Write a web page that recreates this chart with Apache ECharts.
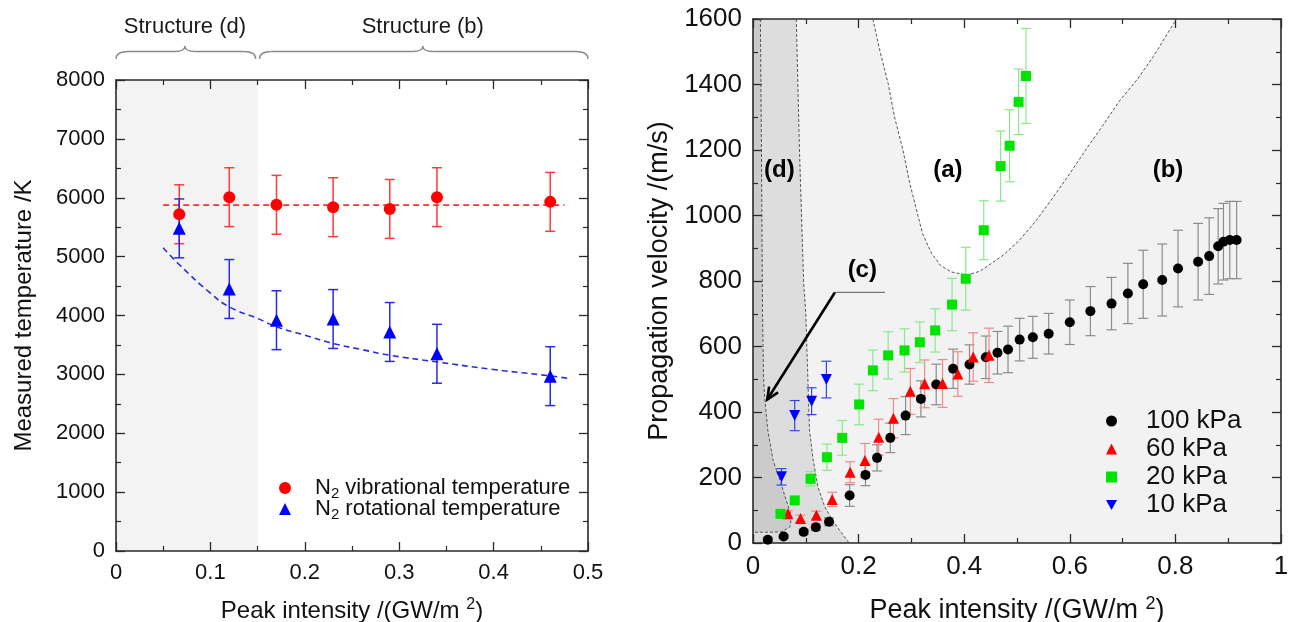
<!DOCTYPE html>
<html><head><meta charset="utf-8">
<script src="https://cdn.jsdelivr.net/npm/echarts@6/dist/echarts.min.js"></script>
<style>html,body{margin:0;padding:0;background:#fff}#c{width:1299px;height:622px}</style>
</head><body><div id="c"></div>
<script>
// ===== Left panel data =====
const leftXTicks = [0, 0.1, 0.2, 0.3, 0.4, 0.5];
const leftYTicks = [0, 1000, 2000, 3000, 4000, 5000, 6000, 7000, 8000];
const leftIntensity = [0.067, 0.12, 0.17, 0.23, 0.29, 0.34, 0.46];
const vibTemp = [5720, 6010, 5880, 5840, 5810, 6010, 5930];
const vibErr  = [500, 500, 500, 500, 500, 500, 500];
const rotTemp = [5480, 4450, 3920, 3940, 3720, 3350, 2970];
const rotErr  = [500, 500, 500, 500, 500, 500, 500];
const vibFitX = [0.05, 0.475];
const vibFitT = [5875, 5875];
const rotFitX = [0.05, 0.068, 0.1, 0.12, 0.15, 0.17, 0.2, 0.23, 0.26, 0.29, 0.34, 0.4, 0.46, 0.48];
const rotFitT = [5150, 4850, 4380, 4147, 3950, 3807, 3666, 3525, 3423, 3326, 3212, 3083, 2974, 2930];
const structShadeX = [0, 0.15];
const structNames = ['Structure (d)', 'Structure (b)'];
const braceStart = [0, 0.152];
const braceEnd   = [0.148, 0.5];
const bracePeak  = [0.073, 0.325];

// ===== Right panel data =====
const rightXTicks = [0, 0.2, 0.4, 0.6, 0.8, 1];
const rightYTicks = [0, 200, 400, 600, 800, 1000, 1200, 1400, 1600];
const p100X = [0.028, 0.058, 0.096, 0.119, 0.144, 0.183, 0.213, 0.235, 0.260, 0.289, 0.318, 0.347, 0.379, 0.410, 0.441, 0.463, 0.483, 0.505, 0.530, 0.560, 0.600, 0.639, 0.679, 0.710, 0.739, 0.775, 0.805, 0.843, 0.864, 0.881, 0.891, 0.903, 0.916];
const p100V = [10, 20, 34, 48, 65, 145, 208, 260, 321, 389, 440, 484, 532, 545, 567, 581, 591, 621, 628, 639, 674, 708, 731, 762, 790, 803, 838, 859, 876, 906, 920, 925, 925];
const p100E = [5, 5, 8, 10, 12, 33, 33, 40, 45, 58, 55, 62, 60, 60, 65, 65, 71, 65, 64, 62, 68, 75, 80, 92, 104, 110, 117, 117, 117, 115, 117, 118, 118];
const p60X = [0.066, 0.090, 0.120, 0.150, 0.184, 0.212, 0.238, 0.266, 0.298, 0.325, 0.359, 0.388, 0.417, 0.447];
const p60V = [89, 75, 85, 133, 216, 252, 323, 381, 463, 486, 487, 516, 568, 573];
const p60E = [10, 10, 12, 22, 32, 52, 55, 60, 70, 73, 73, 68, 74, 83];
const p20X = [0.052, 0.079, 0.109, 0.140, 0.169, 0.201, 0.227, 0.256, 0.287, 0.316, 0.345, 0.377, 0.403, 0.437, 0.469, 0.486, 0.503, 0.517];
const p20V = [89, 130, 196, 262, 321, 423, 527, 573, 588, 613, 649, 728, 807, 955, 1151, 1213, 1347, 1426];
const p20E = [8, 10, 22, 40, 53, 62, 62, 72, 66, 62, 66, 80, 96, 90, 107, 110, 100, 145];
const p10X = [0.054, 0.079, 0.111, 0.139];
const p10V = [202, 389, 433, 499];
const p10E = [25, 46, 41, 56];

// region boundaries
const regionAX = [0.227, 0.240, 0.256, 0.268, 0.284, 0.297, 0.313, 0.321, 0.338, 0.355, 0.375, 0.405, 0.430, 0.474, 0.505, 0.537, 0.569, 0.600, 0.632, 0.663, 0.695, 0.727, 0.758, 0.802];
const regionAV = [1600, 1505, 1403, 1301, 1200, 1098, 996, 945, 885, 848, 828, 818, 830, 879, 925, 986, 1057, 1128, 1205, 1276, 1352, 1414, 1485, 1600];
const regionDX = [0.082, 0.088, 0.096, 0.100, 0.104, 0.107, 0.114, 0.123, 0.136, 0.155, 0.182];
const regionDV = [1600, 1200, 792, 700, 497, 344, 253, 171, 110, 59, 0];
const regionCX = [0.014, 0.016, 0.018, 0.020, 0.022, 0.028, 0.038, 0.051, 0.063, 0.073, 0.070, 0.054, 0.035, 0];
const regionCV = [1600, 1200, 708, 504, 446, 344, 253, 192, 130, 80, 49, 34, 33, 33];
const regionNames = ['(a)', '(b)', '(c)', '(d)'];
const regionLabelX = [0.369, 0.786, 0.207, 0.050];
const regionLabelV = [1138, 1138, 833, 1138];
const leaderX = [0.155, 0.25];
const leaderV = [765, 765];
const arrowX = [0.155, 0.027];
const arrowV = [765, 438];

// ===== helpers =====
const FONT = "'Liberation Sans', Arial, Helvetica, sans-serif";
const AX = '#2a2a2a';
const zip = (xs, ys, es) => xs.map((x, i) => es ? [x, ys[i], es[i]] : [x, ys[i]]);
const step = t => +(t[1] - t[0]).toFixed(6);
const plain = v => String(+v.toFixed(6));

function axis(grid, pos, ticks, fs, showLabel, name, nameGap, nameStyle) {
  const a = {
    gridIndex: grid, type: 'value', position: pos,
    min: ticks[0], max: ticks[ticks.length - 1], interval: step(ticks),
    axisLine: { show: true, onZero: false, lineStyle: { color: AX, width: 1.6 } },
    axisTick: { show: true, inside: true, length: 9, lineStyle: { color: AX, width: 1.3 } },
    minorTick: { show: true, splitNumber: 2, length: 5, lineStyle: { color: AX, width: 1.2 } },
    splitLine: { show: false },
    axisLabel: { show: showLabel, fontSize: fs, color: '#111', fontFamily: FONT, margin: 11, formatter: plain }
  };
  if (name) {
    a.name = name; a.nameLocation = 'middle'; a.nameGap = nameGap;
    a.nameTextStyle = nameStyle;
  }
  return a;
}

function errSeries(xs, ys, es, color, capW, lw, xi, yi) {
  return {
    type: 'custom', xAxisIndex: xi, yAxisIndex: yi, data: zip(xs, ys, es), z: 3, silent: true,
    encode: { x: 0, y: 1 },
    renderItem(p, api) {
      const x = api.value(0), y = api.value(1), e = api.value(2);
      const t = api.coord([x, y + e]), b = api.coord([x, y - e]);
      const st = { stroke: color, lineWidth: lw, fill: null };
      return { type: 'group', children: [
        { type: 'line', shape: { x1: t[0], y1: t[1], x2: b[0], y2: b[1] }, style: st },
        { type: 'line', shape: { x1: t[0] - capW / 2, y1: t[1], x2: t[0] + capW / 2, y2: t[1] }, style: st },
        { type: 'line', shape: { x1: b[0] - capW / 2, y1: b[1], x2: b[0] + capW / 2, y2: b[1] }, style: st }
      ] };
    }
  };
}

function polySeries(getPts, fill, xi, yi, z) {
  return {
    type: 'custom', xAxisIndex: xi, yAxisIndex: yi, data: [[0, 0]], z: z, silent: true,
    renderItem(p, api) {
      return { type: 'polygon', shape: { points: getPts().map(q => api.coord(q)) }, style: { fill: fill, stroke: null } };
    }
  };
}

function dashLine(xs, ys, color, width, dash, xi, yi, smooth) {
  return {
    type: 'line', xAxisIndex: xi, yAxisIndex: yi, data: zip(xs, ys), showSymbol: false, symbol: 'none',
    smooth: smooth || false, silent: true, z: 2,
    lineStyle: { color: color, width: width, type: dash }
  };
}

const lx = leftXTicks, ly = leftYTicks, rx = rightXTicks, ry = rightYTicks;
const LYmin = ly[0], LYmax = ly[ly.length - 1];
const RXmin = rx[0], RYmin = ry[0], RYmax = ry[ry.length - 1];

const leftNameStyle = { fontSize: 24, color: '#111', fontFamily: FONT };
const rightNameStyle = { fontSize: 27, color: '#111', fontFamily: FONT };
const leftXName = { color: '#111', fontFamily: FONT, rich: {
  n: { fontSize: 24, fontFamily: FONT, color: '#111' },
  s: { fontSize: 16, fontFamily: FONT, color: '#111', padding: [0, 0, 12, 0] } } };
const rightXName = { color: '#111', fontFamily: FONT, rich: {
  n: { fontSize: 27, fontFamily: FONT, color: '#111' },
  s: { fontSize: 18, fontFamily: FONT, color: '#111', padding: [0, 0, 13, 0] } } };
const downTri = 'path://M0,0 L10,0 L5,9 Z';

const option = {
  animation: false,
  backgroundColor: '#fff',
  grid: [
    { left: 116, top: 80, width: 472, height: 471, show: false, containLabel: false, outerBoundsMode: 'none' },
    { left: 753, top: 19, width: 528, height: 524, show: true, backgroundColor: '#f2f2f2', borderWidth: 0, containLabel: false, outerBoundsMode: 'none' }
  ],
  xAxis: [
    axis(0, 'bottom', lx, 22, true, '{n|Peak intensity /(GW/m }{s|2}{n|)}', 46, leftXName),
    axis(0, 'top', lx, 22, false),
    axis(1, 'bottom', rx, 26, true, '{n|Peak intensity /(GW/m }{s|2}{n|)}', 52, rightXName),
    axis(1, 'top', rx, 26, false)
  ],
  yAxis: [
    axis(0, 'left', ly, 22, true, 'Measured temperature /K', 80, leftNameStyle),
    axis(0, 'right', ly, 22, false),
    axis(1, 'left', ry, 26, true, 'Propagation velocity /(m/s)', 80, rightNameStyle),
    axis(1, 'right', ry, 26, false)
  ],
  legend: [
    {
      orient: 'vertical', left: 279, top: 477, itemWidth: 12, itemHeight: 12, itemGap: -3, padding: 0,
      data: [{ name: 'N2 vibrational temperature', icon: 'circle' }, { name: 'N2 rotational temperature', icon: 'triangle' }],
      formatter: n => '{n|N}{s|2}{n|' + n.slice(2) + '}',
      textStyle: { padding: [0, 0, 0, 19], rich: {
        n: { fontSize: 22, fontFamily: FONT, color: '#111' },
        s: { fontSize: 15, fontFamily: FONT, color: '#111', padding: [11, 0, 0, 0] } } }
    },
    {
      orient: 'vertical', left: 1106, top: 408, itemWidth: 11, itemHeight: 11, itemGap: 2, padding: 0,
      data: [{ name: '100 kPa', icon: 'circle' }, { name: '60 kPa', icon: 'triangle' }, { name: '20 kPa', icon: 'rect' }, { name: '10 kPa', icon: downTri }],
      textStyle: { fontSize: 26, fontFamily: FONT, color: '#111', padding: [0, 0, 0, 24] }
    }
  ],
  series: [
    // ---------- left panel ----------
    polySeries(() => [[structShadeX[0], LYmin], [structShadeX[0], LYmax], [structShadeX[1], LYmax], [structShadeX[1], LYmin]], '#f3f3f3', 0, 0, 0),
    dashLine(vibFitX, vibFitT, '#ff3030', 1.6, [6, 4], 0, 0),
    dashLine(rotFitX, rotFitT, '#2b2bdd', 1.6, [6, 4], 0, 0, true),
    errSeries(leftIntensity, vibTemp, vibErr, '#ff3a3a', 10, 1.5, 0, 0),
    errSeries(leftIntensity, rotTemp, rotErr, '#2a2ae6', 10, 1.5, 0, 0),
    { type: 'scatter', name: 'N2 vibrational temperature', xAxisIndex: 0, yAxisIndex: 0, data: zip(leftIntensity, vibTemp),
      symbol: 'circle', symbolSize: 12, itemStyle: { color: '#ff0000', opacity: 1 }, z: 5 },
    { type: 'scatter', name: 'N2 rotational temperature', xAxisIndex: 0, yAxisIndex: 0, data: zip(leftIntensity, rotTemp),
      symbol: 'triangle', symbolSize: 13, itemStyle: { color: '#0000ff', opacity: 1 }, z: 5 },
    { // braces and structure labels above the left panel
      type: 'custom', xAxisIndex: 0, yAxisIndex: 0, clip: false, silent: true, z: 6,
      data: structNames.map((n, i) => [braceStart[i], braceEnd[i], bracePeak[i]]),
      renderItem(p, api) {
        const i = p.dataIndex;
        const x0 = api.coord([api.value(0), LYmax])[0], x1 = api.coord([api.value(1), LYmax])[0], xp = api.coord([api.value(2), LYmax])[0];
        const yTop = api.coord([0, LYmax])[1];
        const yEnd = yTop - 21, yLine = yTop - 28.5, yPk = yTop - 34, r = 12, rp = 10;
        const st = { stroke: '#8a8a8a', lineWidth: 1.3, fill: null };
        return { type: 'group', children: [
          { type: 'bezierCurve', shape: { x1: x0, y1: yEnd, x2: x0 + r, y2: yLine, cpx1: x0, cpy1: yLine }, style: st },
          { type: 'line', shape: { x1: x0 + r, y1: yLine, x2: xp - rp, y2: yLine }, style: st },
          { type: 'bezierCurve', shape: { x1: xp - rp, y1: yLine, x2: xp, y2: yPk, cpx1: xp, cpy1: yLine }, style: st },
          { type: 'bezierCurve', shape: { x1: xp, y1: yPk, x2: xp + rp, y2: yLine, cpx1: xp, cpy1: yLine }, style: st },
          { type: 'line', shape: { x1: xp + rp, y1: yLine, x2: x1 - r, y2: yLine }, style: st },
          { type: 'bezierCurve', shape: { x1: x1 - r, y1: yLine, x2: x1, y2: yEnd, cpx1: x1, cpy1: yLine }, style: st },
          { type: 'text', x: xp, y: yTop - 53, style: { text: structNames[i], fill: '#1a1a1a', font: '22px ' + FONT, align: 'center', verticalAlign: 'middle' } }
        ] };
      }
    },
    // ---------- right panel ----------
    polySeries(() => zip(regionAX, regionAV), '#ffffff', 2, 2, 0),
    polySeries(() => [[RXmin, RYmax]].concat(zip(regionDX, regionDV), [[RXmin, RYmin]]), '#dddddd', 2, 2, 0),
    polySeries(() => [[RXmin, RYmax]].concat(zip(regionCX, regionCV)), '#cbcbcb', 2, 2, 0),
    dashLine(regionAX, regionAV, '#555', 1, [3, 2], 2, 2),
    dashLine(regionDX, regionDV, '#555', 1, [3, 2], 2, 2),
    dashLine(regionCX, regionCV, '#555', 1, [3, 2], 2, 2),
    errSeries(p100X, p100V, p100E, '#8c8c8c', 10, 1.2, 2, 2),
    errSeries(p60X, p60V, p60E, '#f08a8a', 10, 1.2, 2, 2),
    errSeries(p20X, p20V, p20E, '#8ae88a', 10, 1.2, 2, 2),
    errSeries(p10X, p10V, p10E, '#3344ee', 10, 1.2, 2, 2),
    { type: 'scatter', name: '100 kPa', xAxisIndex: 2, yAxisIndex: 2, data: zip(p100X, p100V), symbol: 'circle', symbolSize: 10, itemStyle: { color: '#000', opacity: 1 }, z: 5 },
    { type: 'scatter', name: '60 kPa', xAxisIndex: 2, yAxisIndex: 2, data: zip(p60X, p60V), symbol: 'triangle', symbolSize: 11, itemStyle: { color: '#ff0000', opacity: 1 }, z: 5 },
    { type: 'scatter', name: '20 kPa', xAxisIndex: 2, yAxisIndex: 2, data: zip(p20X, p20V), symbol: 'rect', symbolSize: 10, itemStyle: { color: '#00e400', opacity: 1 }, z: 5 },
    { type: 'scatter', name: '10 kPa', xAxisIndex: 2, yAxisIndex: 2, data: zip(p10X, p10V), symbol: downTri, symbolSize: 11, itemStyle: { color: '#0000ff', opacity: 1 }, z: 5 },
    { // (c) leader line + arrow
      type: 'custom', xAxisIndex: 2, yAxisIndex: 2, data: [[arrowX[0], arrowV[0]]], z: 6, silent: true,
      renderItem(p, api) {
        const a = api.coord([arrowX[0], arrowV[0]]), b = api.coord([arrowX[1], arrowV[1]]);
        const l0 = api.coord([leaderX[0], leaderV[0]]), l1 = api.coord([leaderX[1], leaderV[1]]);
        const ang = Math.atan2(b[1] - a[1], b[0] - a[0]), L = 13, W = 0.42;
        const h1 = [b[0] - L * Math.cos(ang - W), b[1] - L * Math.sin(ang - W)];
        const h2 = [b[0] - L * Math.cos(ang + W), b[1] - L * Math.sin(ang + W)];
        return { type: 'group', children: [
          { type: 'line', shape: { x1: l0[0], y1: l0[1], x2: l1[0], y2: l1[1] }, style: { stroke: '#777', lineWidth: 1.2 } },
          { type: 'line', shape: { x1: a[0], y1: a[1], x2: b[0], y2: b[1] }, style: { stroke: '#000', lineWidth: 2.6 } },
          { type: 'polyline', shape: { points: [h1, b, h2] }, style: { stroke: '#000', lineWidth: 2.6, fill: null } }
        ] };
      }
    },
    { // region labels
      type: 'custom', xAxisIndex: 2, yAxisIndex: 2, data: zip(regionLabelX, regionLabelV), z: 7, silent: true,
      encode: { x: 0, y: 1 },
      renderItem(p, api) {
        const c = api.coord([api.value(0), api.value(1)]);
        return { type: 'text', x: c[0], y: c[1], style: { text: regionNames[p.dataIndex], fill: '#000', font: 'bold 24px ' + FONT, align: 'center', verticalAlign: 'middle' } };
      }
    }
  ]
};

const chart = echarts.init(document.getElementById('c'), null, { renderer: 'canvas' });
chart.setOption(option);
</script>
</body></html>
